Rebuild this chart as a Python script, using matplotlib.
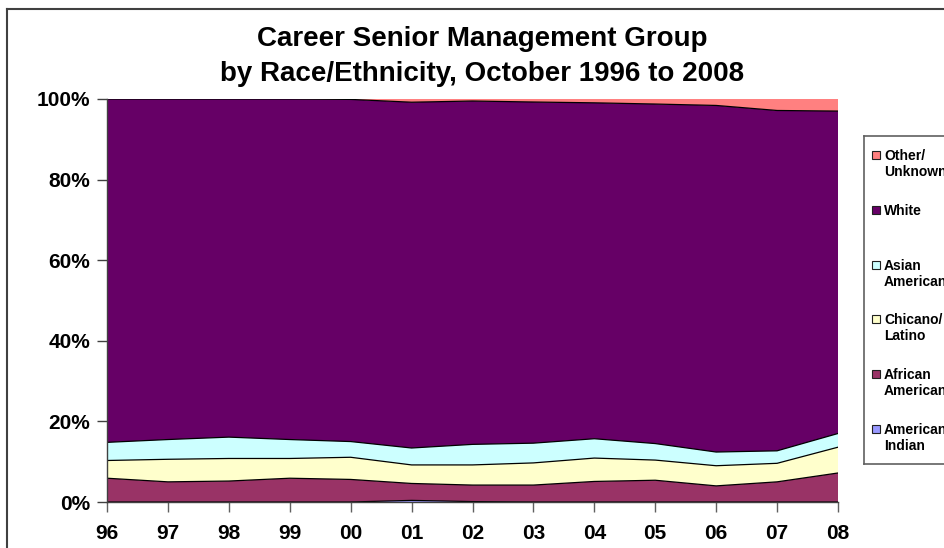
import matplotlib
matplotlib.use("Agg")
import matplotlib.pyplot as plt
import numpy as np
from matplotlib.lines import Line2D
from matplotlib.patches import Rectangle

plt.rcParams['font.family'] = ['Liberation Sans', 'DejaVu Sans']

years = ["96", "97", "98", "99", "00", "01", "02", "03", "04", "05", "06", "07", "08"]
american_indian = [0.0, 0.0, 0.0, 0.0, 0.0, 0.4, 0.1, 0.0, 0.0, 0.0, 0.0, 0.0, 0.0]
african_american = [5.9, 5.0, 5.2, 5.9, 5.6, 4.2, 4.1, 4.2, 5.1, 5.4, 4.0, 5.0, 7.2]
chicano_latino = [4.4, 5.6, 5.6, 4.9, 5.5, 4.6, 5.0, 5.5, 5.8, 5.0, 5.0, 4.6, 6.4]
asian_american = [4.5, 4.9, 5.3, 4.7, 3.9, 4.2, 5.1, 4.9, 4.8, 4.1, 3.4, 3.1, 3.4]
other_unknown = [0.0, 0.0, 0.0, 0.0, 0.1, 0.8, 0.5, 0.75, 0.95, 1.25, 1.6, 2.85, 3.0]
white = [100 - a - b - c - d - e for a, b, c, d, e in zip(
    american_indian, african_american, chicano_latino, asian_american, other_unknown)]

series = [american_indian, african_american, chicano_latino, asian_american, white, other_unknown]
names = ["American\nIndian", "African\nAmerican", "Chicano/\nLatino", "Asian\nAmerican", "White", "Other/\nUnknown"]
colors = ["#9999FF", "#993366", "#FFFFCC", "#CCFFFF", "#660066", "#FF8080"]

W, H = 944, 548
fig = plt.figure(figsize=(W / 100, H / 100), dpi=100)
ax = fig.add_axes([107 / W, 1 - 502 / H, (838 - 107) / W, (502 - 99) / H])

x = np.arange(len(years))
ax.stackplot(x, *series, colors=colors, linewidth=0)
cum = np.cumsum(np.array(series), axis=0)
for row in cum[:-1]:
    ax.plot(x, row, color="black", lw=0.9, solid_joinstyle="round")

ax.set_xlim(0, len(years) - 1)
ax.set_ylim(0, 100)
ax.set_xticks(x)
ax.set_xticklabels(years, fontsize=15, fontweight="bold")
ax.set_yticks([0, 20, 40, 60, 80, 100])
ax.set_yticklabels([f"{v}%" for v in [0, 20, 40, 60, 80, 100]], fontsize=15, fontweight="bold")
ax.tick_params(axis="x", length=7, width=1, color="#606060", pad=9)
ax.tick_params(axis="y", length=7, width=1, color="#404040", pad=5)
for s in ["top", "right"]:
    ax.spines[s].set_visible(False)
for s in ["left", "bottom"]:
    ax.spines[s].set_color("#404040")
    ax.spines[s].set_linewidth(1)
    ax.spines[s].set_zorder(5)

# titles
fig.text(482 / W, 1 - 46.5 / H, "Career Senior Management Group", ha="center", va="baseline",
         fontsize=20, fontweight="bold")
fig.text(482 / W, 1 - 81.5 / H, "by Race/Ethnicity, October 1996 to 2008", ha="center", va="baseline",
         fontsize=20, fontweight="bold")

# outer border
fig.add_artist(Line2D([7 / W, 7 / W], [0, 1 - 9 / H], color="#404040", lw=1.5))
fig.add_artist(Line2D([7 / W, 1], [1 - 9 / H, 1 - 9 / H], color="#404040", lw=1.5))

# legend box
lx0, ly0, ly1 = 864, 136, 464
fig.add_artist(Line2D([lx0 / W, lx0 / W], [1 - ly0 / H, 1 - ly1 / H], color="#606060", lw=1.2))
fig.add_artist(Line2D([lx0 / W, 1], [1 - ly0 / H, 1 - ly0 / H], color="#606060", lw=1.2))
fig.add_artist(Line2D([lx0 / W, 1], [1 - ly1 / H, 1 - ly1 / H], color="#606060", lw=1.2))

entry_y = [155, 210, 265, 319, 374, 429]
for i, (name, col) in enumerate(zip(names[::-1], colors[::-1])):
    yc = entry_y[i]
    fig.add_artist(Rectangle((872 / W, 1 - (yc + 4) / H), 8 / W, 8 / H, facecolor=col,
                             edgecolor="#202020", lw=0.8, transform=fig.transFigure))
    for j, line in enumerate(name.split("\n")):
        fig.text(884 / W, 1 - (yc + 5 + j * 16) / H, line, ha="left", va="baseline",
                 fontsize=10, fontweight="bold")

fig.savefig("out.png", dpi=100)
